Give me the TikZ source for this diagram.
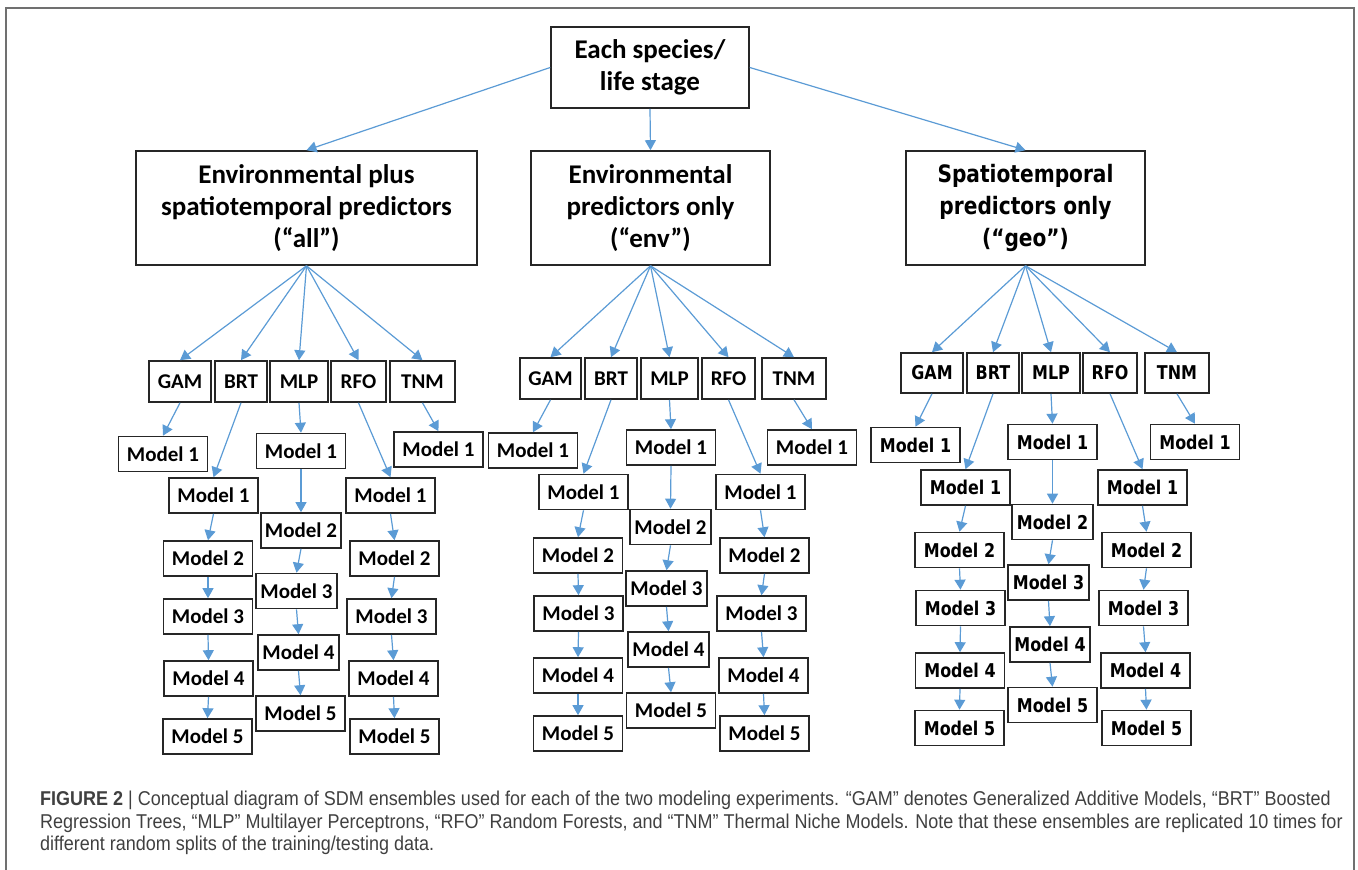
\documentclass[tikz,border=0pt]{standalone}
\usepackage{fontspec}
\usepackage{xcolor}
\usepackage{tikz}
\usetikzlibrary{arrows.meta, positioning}
\setmainfont{Carlito}
\newfontfamily\geofont{DejaVu Sans}[FakeStretch=0.84]
\newfontfamily\capfont{Liberation Sans}[FakeStretch=0.9]
\definecolor{arrowblue}{HTML}{5B9BD5}
\definecolor{captiongray}{HTML}{404040}
\definecolor{framegray}{HTML}{707070}

\tikzset{
    box/.style={draw=black!85, line width=1.6pt, fill=white, align=center, inner sep=2pt},
    head/.style={box, font=\bfseries\fontsize{27}{32}\selectfont, minimum height=114pt},
    alg/.style={box, font=\bfseries\fontsize{21}{25}\selectfont, minimum height=41pt},
    model/.style={box, font=\bfseries\fontsize{21}{25}\selectfont, minimum width=89pt, minimum height=35pt},
    ghead/.style={head, font=\geofont\bfseries\fontsize{24}{32}\selectfont},
    galg/.style={alg, font=\geofont\bfseries\fontsize{19}{23}\selectfont, minimum height=40pt},
    gmodel/.style={model, font=\geofont\bfseries\fontsize{19}{23}\selectfont},
    arr/.style={-{Triangle[length=10pt, width=11pt]}, color=arrowblue, line width=1.2pt}
}

\begin{document}
\begin{tikzpicture}[x=1pt, y=-1pt]
    \useasboundingbox (0,0) rectangle (1358,870);
    \draw[framegray, line width=1.5pt] (6,880) |- (1354,8) -- (1354,880);

    \node[head, minimum width=198pt, minimum height=81pt] (top) at (650,67.5) {Each species/\\life stage};
    \node[head, minimum width=341pt] (all) at (306.5,208) {Environmental plus\\spatiotemporal predictors\\(“all”)};
    \node[head, minimum width=239pt] (env) at (650.5,208) {Environmental\\predictors only\\(“env”)};
    \node[ghead, minimum width=239pt] (geo) at (1025.5,208) {Spatiotemporal\\predictors only\\(“geo”)};

    % all
    \node[alg, minimum width=62pt] (allgam) at (180,381.5) {GAM};
    \node[alg, minimum width=52pt] (allbrt) at (241,381.5) {BRT};
    \node[alg, minimum width=58pt] (allmlp) at (299,381.5) {MLP};
    \node[alg, minimum width=55pt] (allrfo) at (358.5,381.5) {RFO};
    \node[alg, minimum width=65pt] (alltnm) at (422.5,381.5) {TNM};
    \node[model] (allgam1) at (163,454) {Model 1};
    \node[model] (allbrt1) at (213.5,495.5) {Model 1};
    \node[model] (allbrt2) at (208,558.5) {Model 2};
    \node[model] (allbrt3) at (208,616.5) {Model 3};
    \node[model] (allbrt4) at (208.5,678.5) {Model 4};
    \node[model] (allbrt5) at (207.5,736.5) {Model 5};
    \node[model] (allmlp1) at (301,451) {Model 1};
    \node[model, minimum width=80pt] (allmlp2) at (301,530.5) {Model 2};
    \node[model, minimum width=81pt] (allmlp3) at (296.5,591) {Model 3};
    \node[model, minimum width=81pt] (allmlp4) at (298.5,652.5) {Model 4};
    \node[model] (allmlp5) at (300.5,713.5) {Model 5};
    \node[model] (allrfo1) at (390.5,495.5) {Model 1};
    \node[model] (allrfo2) at (394.5,558.5) {Model 2};
    \node[model] (allrfo3) at (391.5,616.5) {Model 3};
    \node[model] (allrfo4) at (393.5,678.5) {Model 4};
    \node[model] (allrfo5) at (394.5,736.5) {Model 5};
    \node[model] (alltnm1) at (438.5,449.5) {Model 1};

    % env
    \node[alg, minimum width=61pt] (envgam) at (550.5,378.5) {GAM};
    \node[alg, minimum width=52pt] (envbrt) at (611,378.5) {BRT};
    \node[alg, minimum width=57pt] (envmlp) at (669.5,378.5) {MLP};
    \node[alg, minimum width=53pt] (envrfo) at (728.5,378.5) {RFO};
    \node[alg, minimum width=64pt] (envtnm) at (794,378.5) {TNM};
    \node[model] (envgam1) at (533,450.5) {Model 1};
    \node[model] (envbrt1) at (583.5,492) {Model 1};
    \node[model] (envbrt2) at (578,555.5) {Model 2};
    \node[model] (envbrt3) at (578.5,613.5) {Model 3};
    \node[model] (envbrt4) at (578,675.5) {Model 4};
    \node[model] (envbrt5) at (578,733.5) {Model 5};
    \node[model] (envmlp1) at (671,447.5) {Model 1};
    \node[model, minimum width=81pt] (envmlp2) at (670.5,527) {Model 2};
    \node[model, minimum width=81pt] (envmlp3) at (666.5,588.5) {Model 3};
    \node[model, minimum width=81pt] (envmlp4) at (668.5,649.5) {Model 4};
    \node[model] (envmlp5) at (671,710.5) {Model 5};
    \node[model] (envrfo1) at (760.5,492) {Model 1};
    \node[model] (envrfo2) at (764.5,555.5) {Model 2};
    \node[model] (envrfo3) at (761.5,613.5) {Model 3};
    \node[model] (envrfo4) at (763.5,675.5) {Model 4};
    \node[model] (envrfo5) at (764.5,733.5) {Model 5};
    \node[model] (envtnm1) at (812,447.5) {Model 1};

    % geo
    \node[galg, minimum width=62pt] (geogam) at (932,373) {GAM};
    \node[galg, minimum width=52pt] (geobrt) at (993,373) {BRT};
    \node[galg, minimum width=58pt] (geomlp) at (1051,373) {MLP};
    \node[galg, minimum width=54pt] (georfo) at (1110,373) {RFO};
    \node[galg, minimum width=64pt] (geotnm) at (1177,373) {TNM};
    \node[gmodel] (geogam1) at (915.5,445) {Model 1};
    \node[gmodel] (geobrt1) at (965.5,487.5) {Model 1};
    \node[gmodel] (geobrt2) at (959.5,550) {Model 2};
    \node[gmodel] (geobrt3) at (960.5,608) {Model 3};
    \node[gmodel] (geobrt4) at (960,670.5) {Model 4};
    \node[gmodel] (geobrt5) at (959.5,728) {Model 5};
    \node[gmodel] (geomlp1) at (1052.5,442) {Model 1};
    \node[gmodel, minimum width=81pt] (geomlp2) at (1052.5,522) {Model 2};
    \node[gmodel, minimum width=81pt] (geomlp3) at (1048.5,582.5) {Model 3};
    \node[gmodel, minimum width=80pt] (geomlp4) at (1050,644.5) {Model 4};
    \node[gmodel] (geomlp5) at (1052.5,705) {Model 5};
    \node[gmodel] (georfo1) at (1142.5,487.5) {Model 1};
    \node[gmodel] (georfo2) at (1146.5,550) {Model 2};
    \node[gmodel] (georfo3) at (1143.5,608) {Model 3};
    \node[gmodel] (georfo4) at (1145.5,670.5) {Model 4};
    \node[gmodel] (georfo5) at (1146.5,728) {Model 5};
    \node[gmodel] (geotnm1) at (1195,442) {Model 1};

    \draw[arr] (top.west) -- (all.north);
    \draw[arr] (top.south) -- (env.north);
    \draw[arr] (top.east) -- (geo.north);

    \draw[arr] (all.south) -- (allgam.north);
    \draw[arr] (all.south) -- (allbrt.north);
    \draw[arr] (all.south) -- (allmlp.north);
    \draw[arr] (all.south) -- (allrfo.north);
    \draw[arr] (all.south) -- (alltnm.north);
    \draw[arr] (allgam.south) -- (allgam1.north);
    \draw[arr] (allbrt.south) -- (allbrt1.north);
    \draw[arr] (allmlp.south) -- (allmlp1.north);
    \draw[arr] (allrfo.south) -- (allrfo1.north);
    \draw[arr] (alltnm.south) -- (alltnm1.north);
    \draw[arr] (allbrt1.south) -- (allbrt2.north);
    \draw[arr] (allbrt2.south) -- (allbrt3.north);
    \draw[arr] (allbrt3.south) -- (allbrt4.north);
    \draw[arr] (allbrt4.south) -- (allbrt5.north);
    \draw[arr] (allmlp1.south) -- (allmlp2.north);
    \draw[arr] (allmlp2.south) -- (allmlp3.north);
    \draw[arr] (allmlp3.south) -- (allmlp4.north);
    \draw[arr] (allmlp4.south) -- (allmlp5.north);
    \draw[arr] (allrfo1.south) -- (allrfo2.north);
    \draw[arr] (allrfo2.south) -- (allrfo3.north);
    \draw[arr] (allrfo3.south) -- (allrfo4.north);
    \draw[arr] (allrfo4.south) -- (allrfo5.north);

    \draw[arr] (env.south) -- (envgam.north);
    \draw[arr] (env.south) -- (envbrt.north);
    \draw[arr] (env.south) -- (envmlp.north);
    \draw[arr] (env.south) -- (envrfo.north);
    \draw[arr] (env.south) -- (envtnm.north);
    \draw[arr] (envgam.south) -- (envgam1.north);
    \draw[arr] (envbrt.south) -- (envbrt1.north);
    \draw[arr] (envmlp.south) -- (envmlp1.north);
    \draw[arr] (envrfo.south) -- (envrfo1.north);
    \draw[arr] (envtnm.south) -- (envtnm1.north);
    \draw[arr] (envbrt1.south) -- (envbrt2.north);
    \draw[arr] (envbrt2.south) -- (envbrt3.north);
    \draw[arr] (envbrt3.south) -- (envbrt4.north);
    \draw[arr] (envbrt4.south) -- (envbrt5.north);
    \draw[arr] (envmlp1.south) -- (envmlp2.north);
    \draw[arr] (envmlp2.south) -- (envmlp3.north);
    \draw[arr] (envmlp3.south) -- (envmlp4.north);
    \draw[arr] (envmlp4.south) -- (envmlp5.north);
    \draw[arr] (envrfo1.south) -- (envrfo2.north);
    \draw[arr] (envrfo2.south) -- (envrfo3.north);
    \draw[arr] (envrfo3.south) -- (envrfo4.north);
    \draw[arr] (envrfo4.south) -- (envrfo5.north);

    \draw[arr] (geo.south) -- (geogam.north);
    \draw[arr] (geo.south) -- (geobrt.north);
    \draw[arr] (geo.south) -- (geomlp.north);
    \draw[arr] (geo.south) -- (georfo.north);
    \draw[arr] (geo.south) -- (geotnm.north);
    \draw[arr] (geogam.south) -- (geogam1.north);
    \draw[arr] (geobrt.south) -- (geobrt1.north);
    \draw[arr] (geomlp.south) -- (geomlp1.north);
    \draw[arr] (georfo.south) -- (georfo1.north);
    \draw[arr] (geotnm.south) -- (geotnm1.north);
    \draw[arr] (geobrt1.south) -- (geobrt2.north);
    \draw[arr] (geobrt2.south) -- (geobrt3.north);
    \draw[arr] (geobrt3.south) -- (geobrt4.north);
    \draw[arr] (geobrt4.south) -- (geobrt5.north);
    \draw[arr] (geomlp1.south) -- (geomlp2.north);
    \draw[arr] (geomlp2.south) -- (geomlp3.north);
    \draw[arr] (geomlp3.south) -- (geomlp4.north);
    \draw[arr] (geomlp4.south) -- (geomlp5.north);
    \draw[arr] (georfo1.south) -- (georfo2.north);
    \draw[arr] (georfo2.south) -- (georfo3.north);
    \draw[arr] (georfo3.south) -- (georfo4.north);
    \draw[arr] (georfo4.south) -- (georfo5.north);

    \node[anchor=north west, align=left, inner sep=0pt, text=captiongray,
        font=\capfont\fontsize{20}{22.5}\selectfont] (caption) at (40,791)
        {{\bfseries FIGURE 2} | Conceptual diagram of SDM ensembles used for each of the two modeling experiments. “GAM” denotes Generalized Additive Models, “BRT” Boosted\\
        Regression Trees, “MLP” Multilayer Perceptrons, “RFO” Random Forests, and “TNM” Thermal Niche Models. Note that these ensembles are replicated 10 times for\\
        different random splits of the training/testing data.};
\end{tikzpicture}
\end{document}
